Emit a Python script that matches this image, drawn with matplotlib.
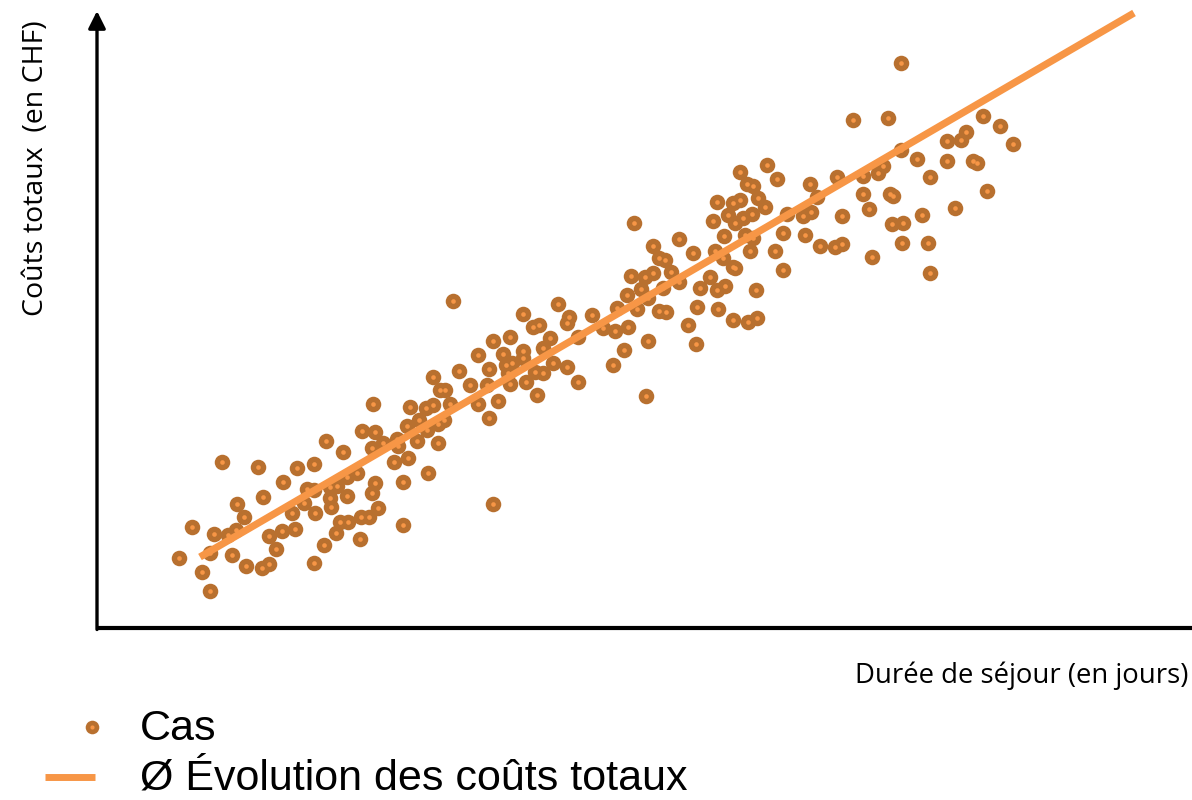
import matplotlib
matplotlib.use("Agg")
import matplotlib.pyplot as plt
from matplotlib.lines import Line2D

# ---- data (arbitrary units) ----
x_cas = [124.7, 94.7, 82, 104.7, 113, 117.3, 113, 134.7, 131.3, 139, 140, 147, 149.3, 161.3, 166.3,
         164.7, 172.3, 172, 179, 185.7, 185.3, 195.3, 198.3, 200.3, 209.7, 217, 207.3, 217.3, 217.7,
         217.3, 228.7, 226.7, 232.7, 233.7, 239.7, 233, 243, 250.7, 238.7, 246, 249.7, 249.7, 263,
         356, 395.7, 413, 381.3, 406.3, 392.3, 362.3, 409, 414.7, 335.7, 373, 389.7, 411.3, 413, 343,
         348, 401.3, 381.3, 392, 353, 335.7, 329, 313, 275.7, 322.3, 347, 340.7, 309.7, 330.3, 264.7,
         278, 286.3, 299.7, 301.3, 319.7, 340.7, 274.7, 297, 311.3, 331.3, 306.3, 278, 274.7, 259.7,
         396.3, 281.3, 263.7, 272.3, 306.3,
         537.3, 582.3, 556.3, 562.3, 568, 533.7, 548, 556.3, 574, 582, 544, 529.7, 551.3, 566.3, 519.7,
         540.3, 562.3, 569, 461.3, 425.7, 495, 472.3, 469.7, 435.7, 442.3, 505.7, 518, 531.3, 591.3,
         453, 480.7, 551.3, 599, 445.7, 426.3, 527, 456.3, 426.3, 470.3, 438, 445.7, 429, 480.7, 515.7,
         439.7, 549,
         669.7, 643, 680.3, 650.3, 655.7, 713, 619.7, 636.3, 643, 661.3, 668, 719.7, 631.3, 638, 646.3,
         654.7, 689.7, 706.3, 713.7, 616.3, 627, 648, 656.3, 686.3, 708, 723, 653, 678, 595.7, 618,
         626.3, 636.3, 638, 685.7, 613, 603, 619.7, 628, 658.7, 599.7, 621.3, 635.7, 651.3, 659.7,
         803.7, 756.3, 791.3, 886.3, 903, 916.3, 869, 863.7, 849.7, 803.7, 819.7, 849.7, 875.7, 879.7,
         739.7, 766.3, 781.3, 786.3, 833, 766.3, 793, 796.3, 889.7, 745.3, 772, 824.7, 858, 794.7,
         805.7, 738, 745.3, 805.3, 831.3, 775.3, 833]
y_cas = [166.3, 101.3, 69.7, 56.3, 37.3, 94, 74.7, 73, 93, 98, 124, 111.3, 62.3, 160.7, 131.3,
         59.7, 64, 92, 79.3, 146.3, 97.3, 114.7, 99.3, 160.3, 138.7, 138, 125, 164, 114.7,
         65.3, 187, 83, 129.7, 121.3, 142, 141.3, 105.7, 105.7, 94.7, 176.3, 132, 151.3, 89,
         327.3, 287, 290.7, 273, 274, 258.7, 257.3, 263, 264.7, 250.7, 243, 243, 254.7, 244, 238,
         238, 227.3, 223.7, 210.3, 224, 223, 219.7, 220.7, 223.7, 208, 208, 204, 202.3, 198, 197.3,
         196.3, 184.7, 188.7, 182.3, 187, 184.7, 179.7, 166.3, 169.7, 155.3, 146.3, 144.7, 134.7, 154.7,
         123.7, 119.7, 111.3, 110.7, 103,
         404.7, 389.3, 382.3, 369.7, 368, 352, 350.7, 354.7, 356.3, 346.3, 338.7, 333, 329.7, 339.7, 319.7,
         318.7, 317, 315.7, 324, 314, 313, 310.7, 304.7, 300.7, 303, 299.7, 297, 301.3, 303,
         289.7, 290.7, 287, 284, 279.7, 277.3, 278, 264.7, 269.7, 260.7, 256.3, 255.3, 246.3, 246.3, 263,
         233, 232.3,
         463, 455.7, 448.7, 444, 442, 444, 425.7, 424.7, 428, 429.7, 420.7, 431.3, 413, 404.7, 409.7,
         414, 414, 412.3, 416.3, 407.3, 392.3, 393, 389.7, 394.7, 393, 382, 377, 377, 375.3, 377.3,
         369.7, 361.3, 360, 358, 351.3, 340.3, 338, 342.3, 338, 321.3, 319, 308, 306.3, 309.7,
         564.7, 508, 510.3, 512, 502.3, 483.7, 495.7, 488, 487, 478, 469, 467, 467, 465.3,
         451.3, 452, 454.7, 462, 450.7, 434, 434, 432.3, 437.3, 412, 419, 413, 420.3, 404.3,
         404.7, 380.7, 384, 385.3, 385.3, 371, 355.3]

# average cost trend (start and end of the line)
x_trend = [103, 1037]
y_trend = [71, 615]

legend_labels = ["Cas", "Ø Évolution des coûts totaux"]
xlabel = "Durée de séjour (en jours)"
ylabel = "Coûts totaux  (en CHF)"

BROWN = "#B8702F"
ORANGE = "#F79646"

W, H = 1192, 800
fig = plt.figure(figsize=(W / 100, H / 100), dpi=100)
ax = fig.add_axes([97 / W, (H - 628) / H, (W - 97) / W, (628 - 10) / H])
ax.set_xlim(0, 1095)
ax.set_ylim(0, 618)
ax.axis("off")

# axes lines
ax.plot([0, 1095], [0, 0], color="black", lw=3, solid_capstyle="butt", clip_on=False, zorder=5)
ax.annotate("", xy=(0, 617), xytext=(0, -1.5),
            arrowprops=dict(arrowstyle="-|>", lw=2.4, color="black", mutation_scale=26,
                            shrinkA=0, shrinkB=0), zorder=5)

# points
ax.scatter(x_cas, y_cas, s=125, color=BROWN, linewidths=0, zorder=2)
ax.scatter(x_cas, y_cas, s=11, color=ORANGE, linewidths=0, zorder=3)

# trend line
ax.plot(x_trend, y_trend, color=ORANGE, lw=5.2, solid_capstyle="butt", zorder=4, clip_on=False)

# axis labels
fig.text(1188 / W, 1 - 676 / H, xlabel, ha="right", va="center", fontsize=19.8,
         family="Open Sans", color="black")
fig.text(36 / W, 1 - 168 / H, ylabel, ha="center", va="center", rotation=90, fontsize=20.5,
         family="Open Sans", color="black")

# legend (manual)
fig.add_artist(Line2D([92 / W], [1 - 727 / H], marker="o", markersize=9.8, color=BROWN,
                      markeredgewidth=0, linestyle="none", transform=fig.transFigure))
fig.add_artist(Line2D([92 / W], [1 - 727 / H], marker="o", markersize=3, color=ORANGE,
                      markeredgewidth=0, linestyle="none", transform=fig.transFigure))
fig.add_artist(Line2D([45 / W, 95 / W], [1 - 777 / H, 1 - 777 / H], color=ORANGE, lw=5,
                      solid_capstyle="butt", transform=fig.transFigure))
fig.text(140 / W, 1 - 729 / H, legend_labels[0], ha="left", va="center", fontsize=31,
         family="Liberation Sans", color="black")
fig.text(140 / W, 1 - 779 / H, legend_labels[1], ha="left", va="center", fontsize=31,
         family="Liberation Sans", color="black")

fig.savefig("out.png", dpi=100, facecolor="white")
